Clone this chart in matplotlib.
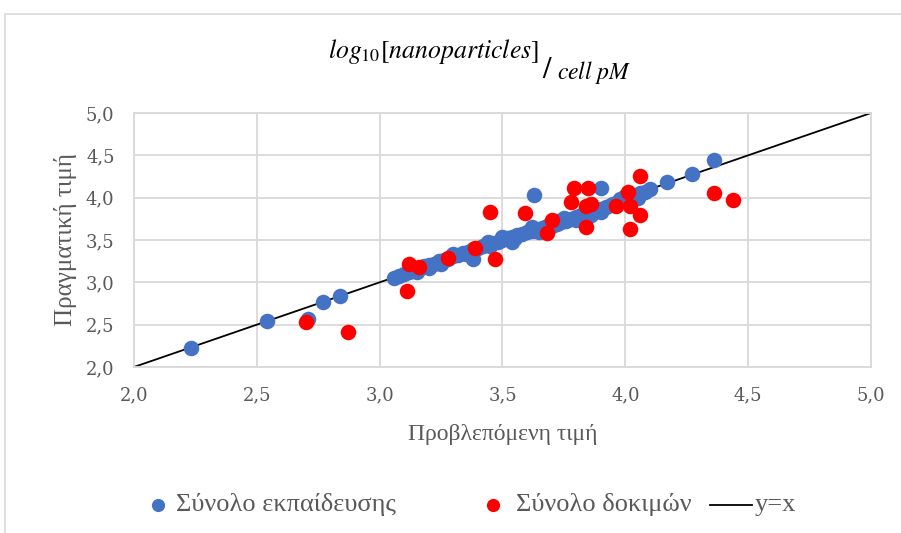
import matplotlib
matplotlib.use("Agg")
import matplotlib.pyplot as plt
from matplotlib.lines import Line2D
from matplotlib.patches import Rectangle
from matplotlib.ticker import FuncFormatter, MultipleLocator

# Training set: predicted (x) vs. actual (y)
train_pred = [2.23, 2.54, 2.71, 2.77, 2.84,
              3.06, 3.08, 3.10, 3.12, 3.14, 3.16, 3.18, 3.20, 3.22, 3.24,
              3.26, 3.28, 3.30, 3.32, 3.34, 3.36, 3.38, 3.40, 3.42, 3.44,
              3.46, 3.48, 3.50, 3.52, 3.54, 3.56, 3.58, 3.60, 3.62, 3.64,
              3.66, 3.68, 3.70, 3.72, 3.74, 3.76, 3.78, 3.80, 3.82, 3.84,
              3.86, 3.88, 3.90, 3.92, 3.94, 3.96, 3.98, 4.00, 4.02, 4.04,
              4.06, 4.08, 4.10,
              3.38, 3.54, 3.63, 3.90, 4.17, 4.27, 4.36,
              3.70, 3.75, 3.85, 3.86, 3.95, 4.00,
              3.15, 3.25, 3.35, 3.45, 3.55, 3.65, 3.72, 3.80, 3.90, 3.98,
              4.05, 3.62, 3.50, 3.44, 3.30, 3.20]
train_actual = [2.22, 2.54, 2.57, 2.77, 2.84,
                3.05, 3.07, 3.10, 3.12, 3.13, 3.16, 3.19, 3.20, 3.22, 3.25,
                3.26, 3.28, 3.31, 3.32, 3.35, 3.36, 3.39, 3.41, 3.43, 3.45,
                3.46, 3.48, 3.50, 3.52, 3.54, 3.56, 3.57, 3.59, 3.61, 3.62,
                3.64, 3.66, 3.67, 3.69, 3.71, 3.73, 3.75, 3.77, 3.79, 3.81,
                3.83, 3.85, 3.87, 3.89, 3.91, 3.94, 3.96, 3.98, 4.00, 4.02,
                4.05, 4.07, 4.10,
                3.27, 3.48, 4.03, 4.12, 4.18, 4.28, 4.45,
                3.71, 3.76, 3.86, 3.80, 3.93, 4.02,
                3.12, 3.22, 3.33, 3.43, 3.52, 3.60, 3.73, 3.74, 3.83, 3.99,
                4.00, 3.65, 3.53, 3.48, 3.33, 3.17]

# Test set: predicted (x) vs. actual (y)
test_pred = [2.70, 2.87, 3.11, 3.12, 3.16, 3.28, 3.39, 3.45, 3.47, 3.59,
             3.68, 3.70, 3.79, 3.85, 3.78, 3.84, 3.86, 3.84, 3.96, 4.01,
             4.02, 4.06, 4.06, 4.02, 4.36, 4.44]
test_actual = [2.53, 2.41, 2.90, 3.22, 3.18, 3.29, 3.41, 3.83, 3.27, 3.82,
               3.58, 3.74, 4.12, 4.11, 3.95, 3.90, 3.92, 3.65, 3.90, 4.07,
               3.90, 4.25, 3.79, 3.63, 4.06, 3.97]

# Reference line y = x
ref_line = [2.0, 5.0]

axis_min, axis_max, axis_step = 2.0, 5.0, 0.5

title_main = r"$log_{10}[nanoparticles]$"
title_slash = r"$/$"
title_sub = r"$cell\ pM$"
x_label = "Προβλεπόμενη τιμή"
y_label = "Πραγματική τιμή"
legend_labels = ["Σύνολο εκπαίδευσης", "Σύνολο δοκιμών", "y=x"]

BLUE = "#4472C4"
RED = "#FF0000"
GRID = "#D9D9D9"
TEXT = "#595959"

plt.rcParams["mathtext.fontset"] = "stix"
plt.rcParams["font.family"] = ["Liberation Serif", "DejaVu Serif"]

W, H = 901, 533
fig = plt.figure(figsize=(W / 100, H / 100), dpi=100)
fig.patch.set_facecolor("white")


def fx(px):
    return px / W


def fy(py):
    return 1 - py / H


# Outer chart-area frame
fig.add_artist(Rectangle((fx(5), -0.1), 1.2, fy(14) + 0.1,
                         transform=fig.transFigure, fill=False,
                         edgecolor=GRID, linewidth=1.2))

ax = fig.add_axes([fx(134), fy(367), (871 - 134) / W, (367 - 113) / H])
ax.set_xlim(axis_min, axis_max)
ax.set_ylim(axis_min, axis_max)
ax.xaxis.set_major_locator(MultipleLocator(axis_step))
ax.yaxis.set_major_locator(MultipleLocator(axis_step))
fmt = FuncFormatter(lambda v, p: f"{v:.1f}".replace(".", ","))
ax.xaxis.set_major_formatter(fmt)
ax.yaxis.set_major_formatter(fmt)
ax.grid(True, color=GRID, linewidth=1.3)
ax.set_axisbelow(True)
for sp in ax.spines.values():
    sp.set_color(GRID)
    sp.set_linewidth(1.3)
ax.tick_params(length=0, pad=14, labelsize=13, labelcolor=TEXT)
for lbl in ax.get_xticklabels() + ax.get_yticklabels():
    lbl.set_family("DejaVu Serif")

ax.plot(ref_line, ref_line, color="black", linewidth=1.3, zorder=2, clip_on=False)
ax.scatter(train_pred, train_actual, s=125, color=BLUE, linewidths=0, zorder=3)
ax.scatter(test_pred, test_actual, s=125, color=RED, linewidths=0, zorder=4)

ax.set_xlabel(x_label, fontsize=17, color=TEXT, labelpad=14)
ax.set_ylabel(y_label, fontsize=18, color=TEXT, labelpad=6)

# Title written as a fraction-like expression
fig.text(fx(328), fy(58), title_main, fontsize=18.5, ha="left",
         va="baseline", color="black")
fig.text(fx(542), fy(78), title_slash, fontsize=22, ha="left",
         va="baseline", color="black")
fig.text(fx(557), fy(79), title_sub, fontsize=17, ha="left",
         va="baseline", color="black")

# Legend entries laid out along the bottom of the chart area
leg_y = fy(505)
fig.add_artist(Line2D([fx(158)], [leg_y], transform=fig.transFigure,
                      marker="o", linestyle="none", markersize=9.5,
                      markerfacecolor=BLUE, markeredgewidth=0))
fig.add_artist(Line2D([fx(493)], [leg_y], transform=fig.transFigure,
                      marker="o", linestyle="none", markersize=9.5,
                      markerfacecolor=RED, markeredgewidth=0))
fig.add_artist(Line2D([fx(710), fx(752)], [leg_y, leg_y],
                      transform=fig.transFigure, color="black", linewidth=1.3))
for px, text in zip([176, 516, 755], legend_labels):
    fig.text(fx(px), leg_y, text, fontsize=19, color=TEXT,
             ha="left", va="center")

fig.savefig("out.png", dpi=100, facecolor="white")
